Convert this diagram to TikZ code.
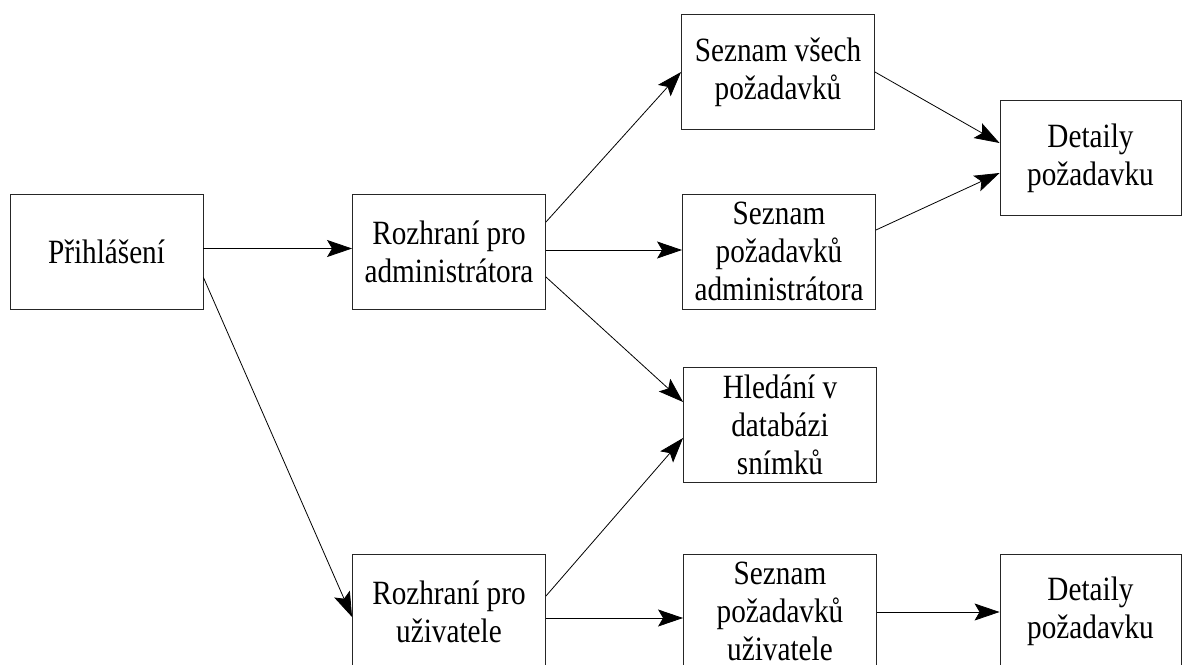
\documentclass[tikz,border=0pt]{standalone}
\usepackage{fontspec}
\setmainfont{Liberation Serif}[FakeStretch=0.86]
\usetikzlibrary{arrows.meta}
\begin{document}
\begin{tikzpicture}[x=1pt,y=-1pt,
  box/.style={draw=black!85, line width=0.9pt, minimum width=193pt, minimum height=115pt,
    inner sep=0pt, align=center, font=\fontsize{34}{38}\selectfont},
  smallbox/.style={box, minimum width=181pt},
  link/.style={line width=0.8pt, -{Stealth[length=25pt, width=17pt, inset=5pt]}}]
\clip (0,0) rectangle (1186,664);
\fill[white] (0,0) rectangle (1186,664);

% boxes
\node[box] (login)   at (106.5,251.5) {Přihlášení};
\node[box] (adm)     at (449,251.5)   {Rozhraní pro\\administrátora};
\node[box] (all)     at (778,72)      {Seznam všech\\požadavků};
\node[smallbox] (det1) at (1090.5,158) {Detaily\\požadavku};
\node[box] (admlist) at (779,251.5)   {Seznam\\požadavků\\administrátora};
\node[box] (search)  at (780,424.5)   {Hledání v\\databázi\\snímků};
\node[box] (usr)     at (449,611.5)   {Rozhraní pro\\uživatele};
\node[box] (usrlist) at (780,611.5)   {Seznam\\požadavků\\uživatele};
\node[smallbox] (det2) at (1090.5,611.5) {Detaily\\požadavku};

% connectors
\draw[link] ([yshift=3pt]login.east) -- ([yshift=3pt]adm.west);
\draw[link] ([yshift=-26pt]login.east) -- ([yshift=-5.5pt]usr.west);
\draw[link] ([yshift=29.5pt]adm.east) -- (all.west);
\draw[link] ([yshift=1.5pt]adm.east) -- ([yshift=1.5pt]admlist.west);
\draw[link] ([yshift=-25.5pt]adm.east) -- ([yshift=22.5pt]search.west);
\draw[link] ([yshift=15.5pt]usr.east) -- ([yshift=-13.5pt]search.west);
\draw[link] ([yshift=-6.5pt]usr.east) -- ([yshift=-6.5pt]usrlist.west);
\draw[link] (all.east) -- ([yshift=15pt]det1.west);
\draw[link] ([yshift=21.5pt]admlist.east) -- ([yshift=-15pt]det1.west);
\draw[link] ([yshift=-0.5pt]usrlist.east) -- ([yshift=-0.5pt]det2.west);
\end{tikzpicture}
\end{document}
